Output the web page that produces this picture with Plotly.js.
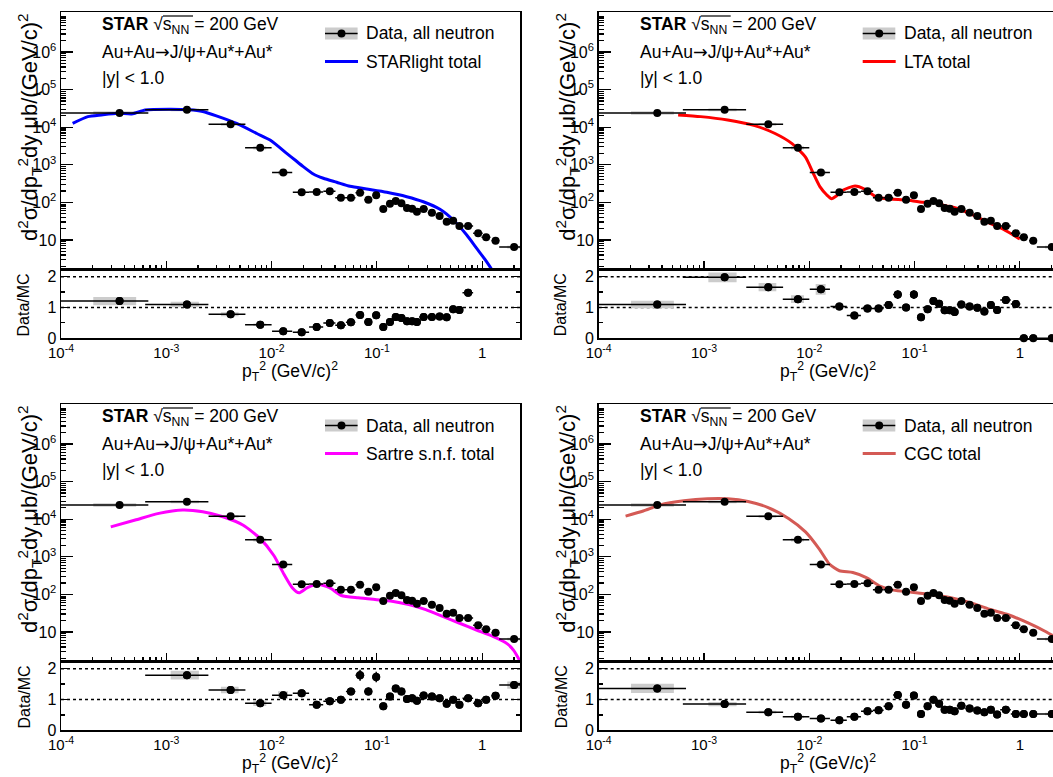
<!DOCTYPE html>
<html><head><meta charset="utf-8">
<script src="https://cdn.plot.ly/plotly-3.0.1.min.js"></script>
<style>html,body{margin:0;padding:0;background:#fff}#chart{width:1053px;height:777px}</style>
</head><body><div id="chart"></div>
<script>
// ---------------- data ----------------
const ptSq = [3.6e-4, 1.57e-3, 4.08e-3, 7.8e-3, 1.29e-2, 1.93e-2, 2.68e-2, 3.57e-2, 4.55e-2, 5.67e-2, 6.92e-2, 8.3e-2, 9.85e-2, 0.115, 0.133, 0.151, 0.171, 0.193, 0.216, 0.240, 0.278, 0.333, 0.394, 0.46, 0.53, 0.608, 0.735, 0.915, 1.09, 1.34, 2.01];
const ptSqHalfWidth = [3.15e-4, 9.4e-4, 1.56e-3, 2.2e-3, 2.8e-3, 3.4e-3, 4.1e-3, 4.7e-3, 5.3e-3, 5.9e-3, 6.6e-3, 7.2e-3, 7.8e-3, 8.4e-3, 9.1e-3, 9.7e-3, 1.03e-2, 1.09e-2, 1.16e-2, 1.22e-2, 2.6e-2, 2.9e-2, 3.1e-2, 3.4e-2, 3.6e-2, 3.9e-2, 8.5e-2, 9.5e-2, 0.105, 0.115, 0.56];
const dataXsec = [2.4e4, 2.9e4, 1.19e4, 2.85e3, 620, 186, 189, 197, 133, 133, 181, 118, 155, 66.7, 92, 109, 95, 71, 68, 56.6, 66.7, 53, 43.5, 30.7, 32.6, 23.6, 23.6, 15.1, 11.8, 9.6, 6.5];
const statRelErr = [0.03, 0.03, 0.03, 0.04, 0.05, 0.05, 0.05, 0.06, 0.07, 0.09, 0.1, 0.1, 0.1, 0.13, 0.1, 0.08, 0.07, 0.06, 0.06, 0.06, 0.05, 0.05, 0.05, 0.05, 0.06, 0.06, 0.06, 0.07, 0.07, 0.08, 0.08];
const sysRelErr = [0.11, 0.08, 0.08, 0.1, 0.11, 0.08, 0.08, 0.08, 0.08, 0.08, 0.08, 0.08, 0.08, 0.08, 0.08, 0.08, 0.08, 0.08, 0.08, 0.08, 0.08, 0.08, 0.08, 0.08, 0.08, 0.08, 0.08, 0.08, 0.08, 0.08, 0.08];

const starlightX = [1.29e-4, 1.8e-4, 2.42e-4, 3.5e-4, 4.7e-4, 6.3e-4, 1.06e-3, 1.65e-3, 2.22e-3, 2.99e-3, 4.66e-3, 7.24e-3, 9.75e-3, 1.41e-2, 1.67e-2, 2.0e-2, 2.49e-2, 3.1e-2, 4.15e-2, 5.56e-2, 8.0e-2, 0.124, 0.192, 0.276, 0.397, 0.531, 0.713, 0.887, 1.10, 1.32, 1.5];
const starlightY = [1.26e4, 1.91e4, 2.12e4, 2.35e4, 2.25e4, 2.85e4, 3.0e4, 2.9e4, 2.61e4, 2.0e4, 1.26e4, 6.8e3, 4.5e3, 1.96e3, 1.34e3, 891, 569, 438, 343, 268, 227, 186, 142, 104, 65.5, 34, 13.6, 6.0, 2.65, 1.2, 0.6];

const ltaX = [5.68e-4, 9.3e-4, 1.68e-3, 3.03e-3, 4.73e-3, 6.86e-3, 9.2e-3, 1.09e-2, 1.26e-2, 1.46e-2, 1.63e-2, 1.82e-2, 2.10e-2, 2.72e-2, 3.38e-2, 4.37e-2, 5.84e-2, 8.41e-2, 0.121, 0.151, 0.187, 0.251, 0.361, 0.52, 0.695, 1.0];
const ltaY = [2.12e4, 1.91e4, 1.55e4, 1.1e4, 6.8e3, 3.66e3, 1.6e3, 594, 262, 160, 125, 150, 214, 273, 223, 137, 123, 116, 101, 109, 85, 70, 46, 27.8, 19.3, 10.6];

const sartreX = [2.97e-4, 5.07e-4, 8.5e-4, 1.43e-3, 2.22e-3, 3.45e-3, 5.38e-3, 7.8e-3, 1.05e-2, 1.31e-2, 1.57e-2, 1.82e-2, 2.19e-2, 2.74e-2, 3.55e-2, 4.6e-2, 6.64e-2, 9.6e-2, 0.139, 0.201, 0.291, 0.422, 0.611, 0.883, 1.28, 1.72, 1.99, 2.31];
const sartreY = [6.24e3, 9.5e3, 1.43e4, 1.76e4, 1.58e4, 1.16e4, 6.9e3, 3.03e3, 1.08e3, 344, 151, 110, 151, 186, 151, 93.5, 81, 73, 66, 53.6, 39.4, 26, 17.1, 11.3, 7.5, 4.9, 3.26, 1.6];

const cgcX = [1.8e-4, 2.65e-4, 3.84e-4, 6.43e-4, 1.08e-3, 1.68e-3, 2.62e-3, 4.07e-3, 6.35e-3, 9.2e-3, 1.24e-2, 1.55e-2, 1.93e-2, 2.59e-2, 3.48e-2, 4.67e-2, 6.29e-2, 9.1e-2, 0.142, 0.221, 0.344, 0.535, 0.776, 1.21, 1.75, 2.15];
const cgcY = [1.21e4, 1.65e4, 2.4e4, 3.08e4, 3.49e4, 3.49e4, 2.96e4, 2.04e4, 1.05e4, 4.6e3, 1.63e3, 644, 425, 382, 280, 167, 130, 115, 99, 81, 59, 39, 28.8, 17.1, 10.3, 7.5];

const ratioStarlight = [1.21, 1.10, 0.78, 0.44, 0.23, 0.20, 0.37, 0.50, 0.42, 0.52, 0.76, 0.53, 0.75, 0.37, 0.53, 0.69, 0.66, 0.55, 0.55, 0.53, 0.69, 0.69, 0.71, 0.68, 0.94, 0.92, 1.48, null, null, null, null];
const ratioLTA = [1.10, 1.98, 1.66, 1.27, 1.59, 1.03, 0.74, 0.97, 0.97, 1.08, 1.42, 1.00, 1.42, 0.68, 0.94, 1.21, 1.12, 0.91, 0.91, 0.85, 1.10, 1.03, 0.99, 0.87, 1.08, 0.92, 1.24, 1.11, 0, 0, 0];
const ratioSartre = [null, 1.79, 1.31, 0.88, 1.14, 1.20, 0.83, 0.94, 0.99, 1.26, 1.79, 1.26, 1.73, 0.78, 1.10, 1.36, 1.26, 1.02, 1.04, 0.96, 1.13, 1.10, 1.04, 0.86, 0.99, 0.83, 1.04, 0.88, 0.99, 1.12, 1.47];
const ratioCGC = [1.36, 0.85, 0.59, 0.44, 0.38, 0.33, 0.44, 0.62, 0.65, 0.78, 1.15, 0.83, 1.13, 0.53, 0.78, 0.99, 0.86, 0.67, 0.67, 0.62, 0.80, 0.71, 0.64, 0.59, 0.67, 0.51, 0.67, 0.53, 0.53, 0.53, 0.53];

const modelNames = ['STARlight total', 'LTA total', 'Sartre s.n.f. total', 'CGC total'];
const xTickVals = [1e-4, 1e-3, 1e-2, 1e-1, 1];
const xTickText = ['10<sup>-4</sup>', '10<sup>-3</sup>', '10<sup>-2</sup>', '10<sup>-1</sup>', '1'];
const yTickVals = [10, 100, 1e3, 1e4, 1e5, 1e6];
const yTickText = ['10', '10<sup>2</sup>', '10<sup>3</sup>', '10<sup>4</sup>', '10<sup>5</sup>', '10<sup>6</sup>'];
const ratioTickVals = [0, 1, 2];

// ---------------- drawing ----------------
const models = [
  {x: starlightX, y: starlightY, r: ratioStarlight, color: '#0000ff'},
  {x: ltaX, y: ltaY, r: ratioLTA, color: '#ff0000'},
  {x: sartreX, y: sartreY, r: ratioSartre, color: '#ff00ff'},
  {x: cgcX, y: cgcY, r: ratioCGC, color: '#d45a55'}
];
const W = 1053, H = 777;
const FONT = 'Liberation Sans, Arial, Helvetica, sans-serif';
const PX = v => v / W, PY = v => 1 - v / H;
const xMinor = [], yMinor = [];
for (let d = -4; d <= 0; d++) for (let k = 2; k <= 9; k++) xMinor.push(k * Math.pow(10, d));
for (let d = 0; d <= 6; d++) for (let k = 2; k <= 9; k++) yMinor.push(k * Math.pow(10, d));

function boxes(xs, ys, hws, rel) {
  const bx = [], by = [];
  xs.forEach((x, j) => {
    const y = ys[j];
    if (y == null || y <= 0) return;
    const hw = 0.5 * hws[j], e = y * rel[j];
    bx.push(x - hw, x + hw, x + hw, x - hw, x - hw, null);
    by.push(y - e, y - e, y + e, y + e, y - e, null);
  });
  return {x: bx, y: by};
}
const an = n => (n === 1 ? '' : String(n));

const traces = [], layout = {
  width: W, height: H, margin: {l: 0, r: 0, t: 0, b: 0},
  paper_bgcolor: '#fff', plot_bgcolor: '#fff', showlegend: false, hovermode: false,
  font: {family: FONT, color: '#000'}, annotations: [], shapes: []
};
const tickFont = {family: FONT, size: 16, color: '#000'};
const xTickFont = {family: FONT, size: 15, color: '#000'};

for (let i = 0; i < 4; i++) {
  const col = i % 2, row = Math.floor(i / 2);
  const m = models[i];
  const mN = 2 * i + 1, rN = 2 * i + 2;
  const dx = col * 537.7, dy = row * 392;
  const xd = col === 0 ? [PX(61), PX(520)] : [PX(598.7), 1];
  const xr = col === 0 ? [-4, 0.359] : [-4, 0.3144];
  const mainDom = [PY(269.3 + dy), PY(12.2 + dy)];
  const ratDom = [PY(338.3 + dy), PY(269.3 + dy)];
  const xm = 'x' + an(mN), ym = 'y' + an(mN), xq = 'x' + an(rN), yq = 'y' + an(rN);

  layout['xaxis' + an(mN)] = {type: 'log', domain: xd, range: xr, anchor: ym, showticklabels: false,
    tickmode: 'linear', tick0: 0, dtick: 1, ticks: 'inside', ticklen: 8, tickwidth: 1.2, tickcolor: '#000',
    minor: {tickmode: 'array', tickvals: xMinor, ticks: 'inside', ticklen: 4, tickwidth: 1.2, tickcolor: '#000'},
    showline: true, linecolor: '#000', linewidth: 1.5, mirror: true, showgrid: false, zeroline: false};
  layout['yaxis' + an(mN)] = {type: 'log', domain: mainDom, range: [0.221, 7.058], anchor: xm,
    tickmode: 'array', tickvals: yTickVals, ticktext: yTickText, ticks: 'inside', ticklen: 12, tickwidth: 1.2, tickcolor: '#000',
    minor: {tickmode: 'array', tickvals: yMinor, ticks: 'inside', ticklen: 5, tickwidth: 1.2, tickcolor: '#000'},
    tickfont: tickFont, showline: true, linecolor: '#000', linewidth: 1.5, mirror: col === 0, showgrid: false, zeroline: false};
  layout['xaxis' + an(rN)] = {type: 'log', domain: xd, range: xr, anchor: yq,
    tickmode: 'array', tickvals: xTickVals, ticktext: xTickText, ticks: '', tickfont: xTickFont,
    showline: true, linecolor: '#000', linewidth: 1.5, mirror: true, showgrid: false, zeroline: false};
  layout['yaxis' + an(rN)] = {domain: ratDom, range: [0, 2.24], anchor: xq,
    tickmode: 'array', tickvals: ratioTickVals, ticks: 'inside', ticklen: 7, tickwidth: 1.2, tickcolor: '#000',
    minor: {tickmode: 'linear', tick0: 0, dtick: 0.5, ticks: 'inside', ticklen: 4, tickwidth: 1.2, tickcolor: '#000'},
    tickfont: tickFont, showline: true, linecolor: '#000', linewidth: 1.5, mirror: col === 0 ? 'ticks' : false,
    showgrid: false, zeroline: false};

  // main: systematic boxes, model curve, data
  const b = boxes(ptSq, dataXsec, ptSqHalfWidth, sysRelErr);
  traces.push({type: 'scatter', mode: 'lines', x: b.x, y: b.y, xaxis: xm, yaxis: ym, fill: 'toself',
    fillcolor: '#cccccc', line: {width: 0, color: '#cccccc'}});
  traces.push({type: 'scatter', mode: 'lines', x: m.x, y: m.y, xaxis: xm, yaxis: ym,
    line: {color: m.color, width: 3, shape: 'spline', smoothing: 0.6}});
  traces.push({type: 'scatter', mode: 'markers', x: ptSq, y: dataXsec, xaxis: xm, yaxis: ym,
    marker: {color: '#000', size: 8},
    error_x: {type: 'data', array: ptSqHalfWidth, color: '#000', thickness: 1.5, width: 0},
    error_y: {type: 'data', array: dataXsec.map((v, j) => v * statRelErr[j]), color: '#000', thickness: 1.5, width: 0}});

  // ratio
  const rb = boxes(ptSq, m.r, ptSqHalfWidth, sysRelErr);
  traces.push({type: 'scatter', mode: 'lines', x: rb.x, y: rb.y, xaxis: xq, yaxis: yq, fill: 'toself',
    fillcolor: '#cccccc', line: {width: 0, color: '#cccccc'}});
  traces.push({type: 'scatter', mode: 'markers', x: ptSq, y: m.r, xaxis: xq, yaxis: yq,
    marker: {color: '#000', size: 8},
    error_x: {type: 'data', array: ptSqHalfWidth, color: '#000', thickness: 1.5, width: 0},
    error_y: {type: 'data', array: m.r.map((v, j) => v == null ? 0 : v * statRelErr[j]), color: '#000', thickness: 1.5, width: 0}});
  traces.push({type: 'scatter', mode: 'markers', x: ptSq, y: m.r, xaxis: xq, yaxis: yq, cliponaxis: false,
    marker: {color: '#000', size: 8}});

  // dotted reference lines
  [1, 2].forEach(v => layout.shapes.push({type: 'line', xref: xq + ' domain', yref: yq, x0: 0, x1: 1, y0: v, y1: v,
    line: {color: '#000', width: 1.5, dash: 'dot'}, layer: 'below'}));

  // texts
  const A = (txt, x, y, size, opts) => layout.annotations.push(Object.assign({text: txt, xref: 'paper', yref: 'paper',
    x: PX(x + dx), y: PY(y + dy), showarrow: false, xanchor: 'left', yanchor: 'middle',
    font: {family: FONT, size: size, color: '#000'}}, opts || {}));
  A('<b>STAR</b> √s<sub>NN</sub> = 200 GeV', 100, 25.3, 17.5);
  A('Au+Au<span style="font-family:DejaVu Sans">→</span>J/ψ+Au*+Au*', 100, 52.4, 17.5);
  A('|y| &lt; 1.0', 100, 77.7, 17.5);
  A('Data, all neutron', 364, 33.5, 17.5);
  A(modelNames[i], 364, 62, 17.5);
  A('d<sup>2</sup>σ/dp<sub>T</sub><sup>2</sup>dy μb/(GeV/c)<sup>2</sup>', 29, 127, 22, {xanchor: 'center', textangle: -90});
  A('Data/MC', 23.5, 305, 16, {xanchor: 'center', textangle: -90});
  A('p<sub>T</sub><sup>2</sup> (GeV/c)<sup>2</sup>', 290, row === 0 ? 372 : 371, 17.5, {xanchor: 'center'});

  // legend symbols and sqrt bar
  const S = (o) => layout.shapes.push(Object.assign({xref: 'paper', yref: 'paper'}, o));
  S({type: 'rect', x0: PX(325 + dx), x1: PX(357.6 + dx), y0: PY(27.5 + dy), y1: PY(39.5 + dy), fillcolor: '#cccccc', line: {width: 0}});
  S({type: 'line', x0: PX(325 + dx), x1: PX(357.6 + dx), y0: PY(33.5 + dy), y1: PY(33.5 + dy), line: {color: '#000', width: 1.5}});
  S({type: 'circle', x0: PX(337.5 + dx), x1: PX(345.5 + dx), y0: PY(29.5 + dy), y1: PY(37.5 + dy), fillcolor: '#000', line: {color: '#000', width: 0}});
  S({type: 'line', x0: PX(325 + dx), x1: PX(358 + dx), y0: PY(61.5 + dy), y1: PY(61.5 + dy), line: {color: m.color, width: 3}});
  S({type: 'line', x0: PX(163 + dx), x1: PX(193 + dx), y0: PY(16 + dy), y1: PY(16 + dy), line: {color: '#000', width: 1.2}});
}

Plotly.newPlot('chart', traces, layout, {displayModeBar: false, staticPlot: true});
</script>
</body></html>
